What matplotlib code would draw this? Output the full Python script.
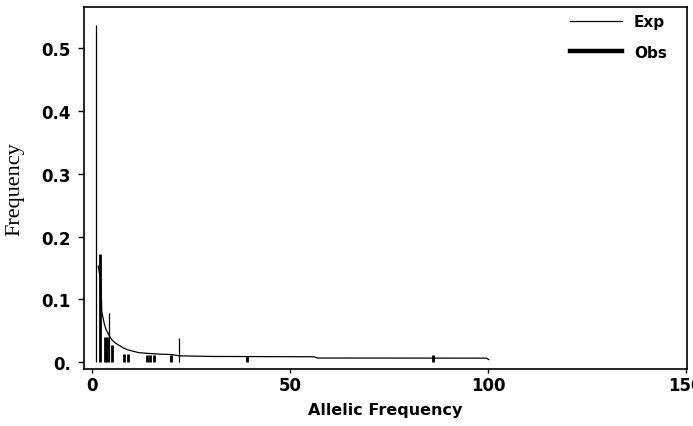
import matplotlib.pyplot as plt
from matplotlib.lines import Line2D

# Expected allele frequency curve
exp_x = [1.5, 2.2, 2.4, 3.0, 3.4, 4.2, 5.0, 5.9, 8.0, 9.3, 11.8, 16.0, 20.0, 22.0, 30.3, 56.0, 57.0, 99.6, 100.2]
exp_y = [0.153, 0.127, 0.080, 0.062, 0.053, 0.043, 0.035, 0.030, 0.022, 0.019, 0.015, 0.013, 0.012, 0.010, 0.009, 0.0085, 0.0065, 0.0063, 0.004]

# Observed frequencies (thick needles)
obs_x = [2.0, 3.1, 3.7, 5.0, 8.0, 9.0, 13.9, 14.7, 15.6, 19.8, 39.0, 86.0]
obs_y = [0.172, 0.040, 0.040, 0.027, 0.013, 0.013, 0.012, 0.012, 0.012, 0.012, 0.010, 0.012]

# single thin spikes
spike_x = [1.0, 4.3, 21.8]
spike_y = [0.537, 0.079, 0.039]

yticks = [0.0, 0.1, 0.2, 0.3, 0.4, 0.5]
ylabels = ['0.', '0.1', '0.2', '0.3', '0.4', '0.5']
xticks = [0, 50, 100, 150]

sans = ['DejaVu Sans']

fig = plt.figure(figsize=(6.93, 4.27), dpi=100)
ax = fig.add_axes([84 / 693, 1 - 370 / 427, (687 - 84) / 693, (370 - 8) / 427])

ax.plot(exp_x, exp_y, color='black', lw=0.9)
ax.vlines(obs_x, 0, obs_y, color='black', lw=2.0)
ax.vlines(spike_x, 0, spike_y, color='black', lw=0.9)

ax.set_xlim(-2.1, 150.3)
ax.set_ylim(-0.011, 0.566)
ax.set_yticks(yticks)
ax.set_yticklabels(ylabels)
ax.set_xticks(xticks)

for lab in ax.get_xticklabels() + ax.get_yticklabels():
    lab.set_family(sans)
    lab.set_fontweight('bold')
    lab.set_fontsize(12)

ax.tick_params(axis='y', direction='out', length=4.5, width=1, pad=5)
ax.tick_params(axis='x', direction='out', length=3, width=1, pad=2)
for s in ax.spines.values():
    s.set_linewidth(1.2)

ax.set_xlabel('Allelic Frequency', family=sans, fontweight='bold', fontsize=11.5, labelpad=6)
ax.set_ylabel('Frequency', family=['Liberation Serif', 'DejaVu Serif'], fontsize=16, labelpad=12)

handles = [Line2D([], [], color='black', lw=0.9),
           Line2D([], [], color='black', lw=3.2)]
leg = ax.legend(handles, ['Exp', 'Obs'], loc='upper right', bbox_to_anchor=(0.982, 1.005),
                frameon=False, handlelength=3.4, handletextpad=0.8, labelspacing=1.0,
                borderaxespad=0.2, prop={'family': sans, 'weight': 'bold', 'size': 11})

fig.savefig('out.png', dpi=100)
